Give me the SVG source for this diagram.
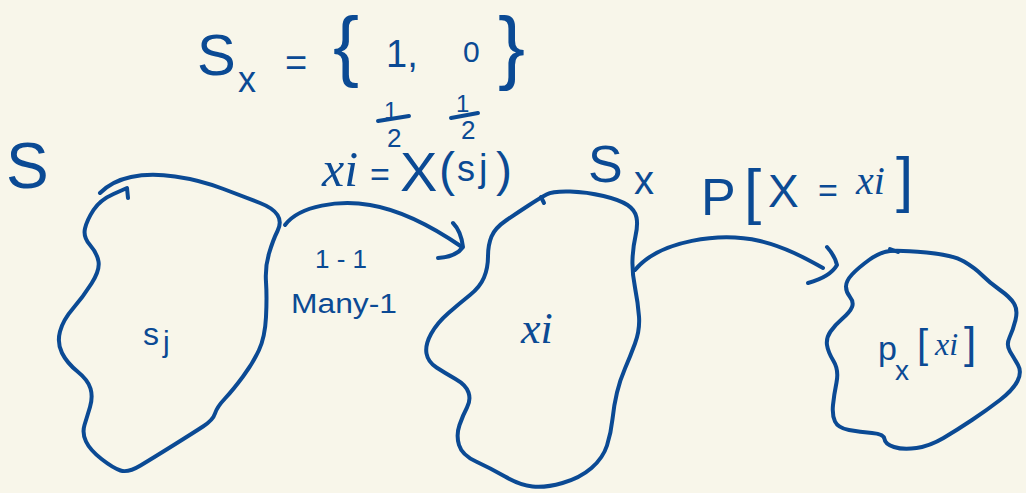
<svg xmlns="http://www.w3.org/2000/svg" width="1026" height="493" viewBox="0 0 1026 493">
<style>
.ink{fill:none;stroke:#0B4A94;stroke-width:4;stroke-linecap:round;stroke-linejoin:round}
.t{font-family:"Liberation Sans",Arial,sans-serif;fill:#0B4A94}
.m{font-family:"Liberation Serif","Times New Roman",serif;font-style:italic;fill:#0B4A94}
</style>
<rect width="1026" height="493" fill="#F8F6EA"/>
<g id="labels">
<text class="t" x="6" y="188" font-size="64">S</text>
<text class="t" x="197" y="75" font-size="58">S</text>
<text class="t" x="238" y="92" font-size="36">x</text>
<text class="t" x="285" y="76" font-size="38">=</text>
<text class="t" x="333" y="72" font-size="78">{</text>
<text class="t" x="386" y="67" font-size="38">1,</text>
<text class="t" x="463" y="62" font-size="30">0</text>
<text class="t" x="498" y="74" font-size="81">}</text>
<text class="t" x="384" y="119" font-size="24">1</text>
<line class="ink" x1="378" y1="121" x2="409" y2="116" stroke-width="3.5"/>
<text class="t" x="387" y="147" font-size="26">2</text>
<text class="t" x="456" y="112" font-size="24">1</text>
<line class="ink" x1="451" y1="118" x2="478" y2="113" stroke-width="3.5"/>
<text class="t" x="461" y="139" font-size="26">2</text>
<text y="186"><tspan class="m" x="322" font-size="50">xi</tspan><tspan class="t" x="370" font-size="34">=</tspan><tspan class="t" x="400" font-size="56" y="191">X</tspan><tspan class="t" x="439" font-size="48" y="186">(</tspan><tspan class="t" x="457" font-size="36" y="181">s</tspan><tspan class="t" x="479" font-size="38" y="181">j</tspan><tspan class="t" x="496" font-size="48" y="186">)</tspan></text>
<text class="t" x="588" y="182" font-size="52">S</text>
<text class="t" x="634" y="194" font-size="40">x</text>
<text class="t" x="701" y="215" font-size="52">P</text>
<text class="t" x="744" y="212" font-size="62">[</text>
<text class="t" x="768" y="207" font-size="46">X</text>
<text class="t" x="818" y="202" font-size="34">=</text>
<text class="m" x="856" y="194" font-size="40">xi</text>
<text class="t" x="896" y="200" font-size="62">]</text>
</g>
<g id="connectors">
<path class="ink" d="M 285 225 C 300 205 340 200 370 205 C 400 210 430 225 462 247"/>
<path class="ink" d="M 453 223 Q 461 231 463 247 Q 456 257 438 258"/>
<path class="ink" d="M 635 270 C 660 240 720 232 760 241 C 785 247 805 258 823 268"/>
<path class="ink" d="M 827 247 Q 835 256 837 265 Q 830 277 808 283"/>
<text class="t" x="315" y="268" font-size="26" textLength="52" lengthAdjust="spacing">1-1</text>
<text class="t" x="291" y="313" font-size="27" textLength="106" lengthAdjust="spacingAndGlyphs">Many-1</text>
</g>
<g id="node-S">
<path class="ink" d="M 100 193 Q 112 181 131 177 Q 150 173 175 176.5 Q 200 180 223.5 189 Q 247 198 260 203 Q 273 208 277.5 215 Q 282 222 277.5 231 Q 273 240 269 253.5 Q 265 267 266 282 Q 267 297 266 317 Q 265 337 259 350 Q 253 363 243 376.5 Q 233 390 225 398.5 Q 217 407 215 413.5 Q 213 420 203 426.5 Q 193 433 173 445.5 Q 153 458 140.5 465.5 Q 128 473 120.5 470.5 Q 113 468 101.5 459 Q 90 450 86 441.5 Q 82 433 84.5 425 Q 87 417 90 407 Q 93 397 90.5 388.5 Q 88 380 77.5 371.5 Q 67 363 62 353 Q 57 343 60 331.5 Q 63 320 73 308.5 Q 83 297 91.5 283.5 Q 100 270 98.5 261.5 Q 97 253 90 245 Q 83 237 85 228.5 Q 87 220 93.5 210 Q 100 200 113.5 194 L 127 188 L 128 198"/>
<text class="t" x="143" y="345" font-size="32">s</text>
<text class="t" x="163" y="352" font-size="30">j</text>
</g>
<g id="node-Sx">
<path class="ink" d="M 546.5 194.5 Q 553 191 570 191.5 Q 587 192 603.5 196 Q 620 200 627.5 205 Q 635 210 636.5 217.5 Q 638 225 635.5 236 Q 633 247 632.5 259.5 Q 632 272 635 287.5 Q 638 303 639 316.5 Q 640 330 635 343.5 Q 630 357 625 368.5 Q 620 380 617 392.5 Q 614 405 612.5 419 Q 611 433 607 445.5 Q 603 458 591.5 468 Q 580 478 562.5 483 Q 545 488 532.5 486.5 Q 520 485 505 476.5 Q 490 468 476 461.5 Q 462 455 459 445 Q 456 435 459.5 425 Q 463 415 467 407.5 Q 471 400 468.5 392.5 Q 466 385 455.5 379 Q 445 373 436.5 367.5 Q 428 362 426.5 353.5 Q 425 345 431 334 Q 437 323 448.5 313 Q 460 303 470 295 Q 480 287 484 277.5 Q 488 268 488 256.5 Q 488 245 491.5 236.5 Q 495 228 506 220.5 Q 517 213 528.5 205.5 Q 540 198 546.5 194.5 Z"/>
<path class="ink" d="M 541 197 L 544 203"/>
<text class="m" x="521" y="343" font-size="44">xi</text>
</g>
<g id="node-px">
<path class="ink" d="M 890 251 Q 900 250 926.5 252.5 Q 953 255 964 261.5 Q 975 268 982.5 275.5 Q 990 283 1000 290 Q 1010 297 1014 303.5 Q 1018 310 1015.5 320 Q 1013 330 1009.5 337.5 Q 1006 345 1010 351.5 Q 1014 358 1018 365 Q 1022 372 1017.5 381 Q 1013 390 1000 400 Q 987 410 972 420 Q 957 430 943.5 438 Q 930 446 916.5 448 Q 903 450 894 447 Q 885 444 884.5 439 Q 884 434 872 433 Q 860 432 849 430 Q 838 428 835 421.5 Q 832 415 833 405 Q 834 395 836.5 382.5 Q 839 370 833.5 361 Q 828 352 827 345 Q 826 338 830.5 331.5 Q 835 325 842.5 318.5 Q 850 312 852 307 Q 854 302 850 297 Q 846 292 846 286.5 Q 846 281 852 274.5 Q 858 268 869 260 Q 880 252 890 251 Z"/>
<path class="ink" d="M 890 249 L 898 252"/>
<text class="t" x="878" y="360" font-size="34">p</text>
<text class="t" x="895" y="380" font-size="28">x</text>
<text class="t" x="917" y="358" font-size="40">[</text>
<text class="m" x="935" y="355" font-size="32">xi</text>
<text class="t" x="964" y="358" font-size="44">]</text>
</g>
</svg>
